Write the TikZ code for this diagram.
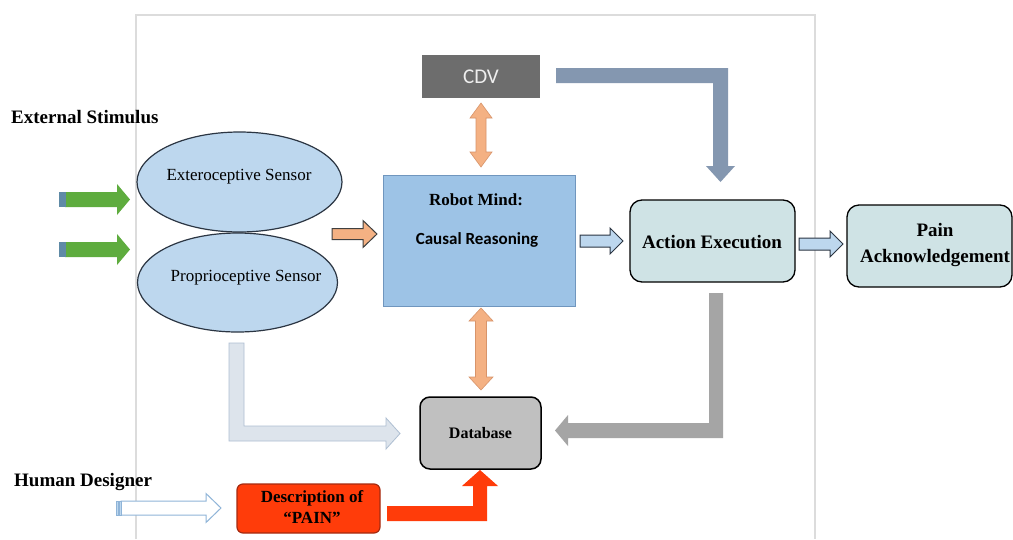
\documentclass[tikz,border=0pt]{standalone}
\usepackage{fontspec}
\setmainfont{Liberation Serif}
\newfontfamily\calibrifont{Carlito}
\usetikzlibrary{shapes.geometric}
\definecolor{greenc}{HTML}{5EAC3E}
\definecolor{tailc}{HTML}{5F8AA6}
\definecolor{sensf}{HTML}{BDD7EE}
\definecolor{sensb}{HTML}{2B3542}
\definecolor{mindf}{HTML}{9DC3E6}
\definecolor{mindb}{HTML}{7096BE}
\definecolor{cdvf}{HTML}{6D6D6D}
\definecolor{cdvt}{HTML}{EEEEEE}
\definecolor{actf}{HTML}{CFE3E5}
\definecolor{dbf}{HTML}{C0C0C0}
\definecolor{descf}{HTML}{FF3C0A}
\definecolor{descb}{HTML}{A52A10}
\definecolor{orangef}{HTML}{F4B183}
\definecolor{orangeb}{HTML}{D8946A}
\definecolor{slatec}{HTML}{8497B0}
\definecolor{grayarr}{HTML}{A5A5A5}
\definecolor{lightarr}{HTML}{DDE4EC}
\definecolor{lightarrb}{HTML}{AEBFD2}
\definecolor{framec}{HTML}{DCDCDC}
\definecolor{hdarr}{HTML}{8FB4D8}
\tikzset{
  sensor/.style={ellipse, draw=sensb, fill=sensf, line width=1.2pt, inner sep=0pt},
  txt/.style={inner sep=0pt, font=\fontsize{17}{20}\selectfont},
  btxt/.style={inner sep=0pt, font=\bfseries\fontsize{19}{22}\selectfont},
  roundbox/.style={rounded corners=12pt, draw=black, line width=1.3pt, fill=actf, minimum width=165pt, minimum height=82pt, inner sep=0pt},
  greenarrow/.style={fill=greenc},
  orangearrow/.style={fill=orangef, draw=orangeb, line width=0.6pt},
  bluearrow/.style={fill=sensf, draw=sensb, line width=1pt},
}
\begin{document}
\begin{tikzpicture}[x=1pt,y=-1pt]
\useasboundingbox (0,0) rectangle (1013,539);
\fill[white] (0,0) rectangle (1013,539);
% frame
\draw[framec, line width=1.5pt] (136,539) -- (136,15) -- (815,15) -- (815,539);

% labels
\node[btxt, anchor=west] (extstim) at (11,117) {External Stimulus};
\node[btxt, anchor=west] (human) at (14,482) {Human Designer};

% sensors
\node[sensor, minimum width=205pt, minimum height=100pt] (ext) at (239.5,182) {};
\node[sensor, minimum width=200pt, minimum height=99pt] (prop) at (237.5,282.5) {};
\node[txt] (exttxt) at (239,177) {Exteroceptive Sensor};
\node[txt] (proptxt) at (246,278) {Proprioceptive Sensor};

% robot mind
\node[draw=mindb, fill=mindf, line width=1pt, minimum width=192pt, minimum height=131pt, inner sep=0pt] (mind) at (479,240.5) {};
\node[inner sep=0pt, font=\bfseries\fontsize{17}{20}\selectfont] (mindtitle) at (476,200) {Robot Mind:};
\node[inner sep=0pt, font=\calibrifont\bfseries\fontsize{17}{20}\selectfont] (mindsub) at (477,240) {Causal Reasoning};

% CDV
\node[fill=cdvf, minimum width=118pt, minimum height=43pt, inner sep=0pt, text=cdvt, font=\calibrifont\fontsize{21}{24}\selectfont] (cdv) at (481,76.5) {CDV};

% action / pain
\node[roundbox] (act) at (712.5,241) {};
\node[btxt] (acttxt) at (712,242) {Action Execution};
\node[roundbox] (pain) at (929.5,246) {};
\node[btxt, align=center, font=\bfseries\fontsize{19}{26}\selectfont] (paintxt) at (935,245) {Pain\\Acknowledgement};

% database
\node[rounded corners=10pt, draw=black, line width=1.5pt, fill=dbf, minimum width=121pt, minimum height=72pt, inner sep=0pt, font=\bfseries\fontsize{16}{19}\selectfont] (db) at (480.5,433) {Database};

% description
\node[rounded corners=6pt, draw=descb, line width=1.2pt, fill=descf, minimum width=143pt, minimum height=49pt, inner sep=0pt] (desc) at (308.5,508.5) {};
\node[inner sep=0pt, align=center, font=\bfseries\fontsize{17}{21}\selectfont] (desctxt) at (312,507.5) {Description of\\“PAIN”};

% green input arrows
\fill[greenarrow] (65,192) -- (117,192) -- (117,184) -- (130,199.5) -- (117,215) -- (117,207) -- (65,207) -- cycle;
\fill[tailc] (59,192) rectangle (66,207);
\fill[greenarrow] (65,242) -- (117,242) -- (117,234) -- (130,249.5) -- (117,265) -- (117,257) -- (65,257) -- cycle;
\fill[tailc] (59,242) rectangle (66,257);

% sensors -> mind
\draw[fill=orangef, draw=black!75, line width=1pt] (332,228.5) -- (363,228.5) -- (363,220.5) -- (377,234) -- (363,247.5) -- (363,239.5) -- (332,239.5) -- cycle;

% CDV <-> mind
\draw[orangearrow] (481,103) -- (492,118) -- (486,118) -- (486,152) -- (492,152) -- (481,167) -- (470,152) -- (476,152) -- (476,118) -- (470,118) -- cycle;
% mind <-> database
\draw[orangearrow] (481,308) -- (493,321) -- (486.5,321) -- (486.5,377) -- (493,377) -- (481,390) -- (469,377) -- (475.5,377) -- (475.5,321) -- (469,321) -- cycle;

% mind -> action, action -> pain
\draw[bluearrow] (580,235) -- (610,235) -- (610,228) -- (623,241) -- (610,254) -- (610,247) -- (580,247) -- cycle;
\draw[bluearrow] (799,238) -- (830,238) -- (830,231) -- (843,244) -- (830,257) -- (830,250) -- (799,250) -- cycle;

% CDV -> action (elbow)
\fill[slatec] (556,68) -- (728,68) -- (728,166) -- (735,166) -- (720.5,182) -- (706,166) -- (713,166) -- (713,83) -- (556,83) -- cycle;

% action -> database (elbow)
\fill[grayarr] (709,293) -- (723,293) -- (723,438) -- (568,438) -- (568,446) -- (555,430.5) -- (568,415) -- (568,423) -- (709,423) -- cycle;

% proprioceptive -> database (elbow)
\draw[fill=lightarr, draw=lightarrb, line width=0.8pt] (229,343) -- (244,343) -- (244,426) -- (386,426) -- (386,418) -- (400,433.5) -- (386,449) -- (386,441) -- (229,441) -- cycle;

% description -> database (elbow)
\fill[descf] (387,506) -- (473,506) -- (473,486) -- (462,486) -- (480,470) -- (498,486) -- (487,486) -- (487,521) -- (387,521) -- cycle;

% human designer -> description
\draw[fill=white, draw=hdarr, line width=1pt] (121,501) -- (206,501) -- (206,493.5) -- (221,508) -- (206,522.5) -- (206,515) -- (121,515) -- cycle;
\draw[fill=sensf, draw=hdarr, line width=0.8pt] (116,501) rectangle (118,515);
\draw[fill=sensf, draw=hdarr, line width=0.8pt] (119,501) rectangle (121,515);
\end{tikzpicture}
\end{document}
